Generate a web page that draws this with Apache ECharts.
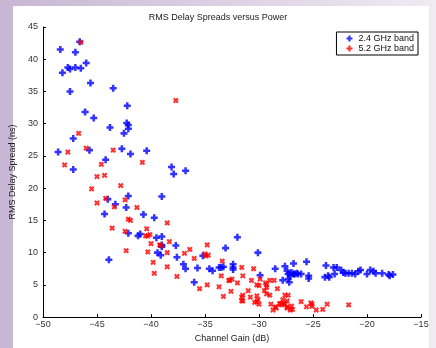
<!DOCTYPE html>
<html><head><meta charset="utf-8">
<script src="https://cdn.jsdelivr.net/npm/echarts@6/dist/echarts.min.js"></script>
<style>html,body{margin:0;padding:0;}#c{width:436px;height:348px;}</style>
</head><body><div id="c"></div>
<script>
const chartTitle = "RMS Delay Spreads versus Power";
const xName = "Channel Gain (dB)";
const yName = "RMS Delay Spread (ns)";
const seriesNames = ["2.4 GHz band", "5.2 GHz band"];
const xTicks = [-50, -45, -40, -35, -30, -25, -20, -15];
const yTicks = [0, 5, 10, 15, 20, 25, 30, 35, 40, 45];

const band24 = [[-46.6,42.7],[-48.4,41.5],[-47.0,41.1],[-46.0,39.4],[-47.7,38.7],[-47.5,38.5],[-47.0,38.7],[-46.5,38.6],[-48.2,37.9],[-45.6,36.3],[-43.5,35.5],[-47.5,35.0],[-42.2,32.8],[-46.1,31.8],[-45.3,30.9],[-43.8,29.4],[-42.25,30.1],[-42.1,29.8],[-42.1,29.2],[-42.5,28.5],[-47.2,27.7],[-45.7,25.9],[-48.6,25.6],[-42.7,26.1],[-40.4,25.8],[-41.9,25.3],[-44.2,24.4],[-47.2,22.9],[-38.1,23.3],[-37.9,22.2],[-36.8,22.7],[-39.0,18.7],[-44.0,18.3],[-42.1,18.8],[-43.3,17.5],[-42.3,17.0],[-44.3,16.0],[-40.7,15.9],[-39.7,15.4],[-42.1,13.0],[-41.2,12.6],[-41.0,12.9],[-39.5,12.3],[-39.0,12.5],[-39.0,11.2],[-39.0,10.9],[-39.4,10.0],[-39.1,9.6],[-43.9,8.9],[-37.7,11.1],[-37.6,9.3],[-37.0,8.2],[-36.8,7.5],[-35.7,7.6],[-36.0,5.4],[-35.2,9.5],[-34.6,7.5],[-34.3,7.2],[-33.7,7.7],[-33.5,7.7],[-33.3,7.8],[-33.1,10.7],[-32.4,8.2],[-32.4,7.7],[-32.4,7.4],[-32.0,12.4],[-30.1,10.0],[-29.9,6.5],[-28.5,7.5],[-27.8,5.7],[-27.6,7.9],[-26.8,8.3],[-25.6,8.6],[-23.8,8.0],[-27.4,7.2],[-27.3,6.7],[-27.1,6.4],[-27.0,6.9],[-26.8,6.7],[-26.7,6.7],[-26.5,6.8],[-26.4,6.7],[-26.1,6.7],[-27.3,5.9],[-27.2,5.4],[-25.4,6.4],[-25.4,6.0],[-23.9,6.2],[-23.6,6.4],[-23.5,6.2],[-23.1,7.7],[-22.8,7.7],[-22.4,7.3],[-22.2,6.9],[-22.0,6.8],[-21.7,6.8],[-21.4,6.8],[-23.0,6.7],[-21.1,6.7],[-20.8,7.1],[-20.6,7.3],[-20.0,6.7],[-19.7,7.3],[-19.4,7.1],[-19.2,6.8],[-18.6,6.8],[-18.0,6.6],[-17.9,6.4],[-17.6,6.6]];

const band52 = [[-46.5,42.6],[-46.7,28.5],[-46.0,26.2],[-47.7,25.6],[-43.5,25.9],[-40.8,24.0],[-48.0,23.6],[-44.6,23.7],[-45.0,21.8],[-44.3,22.0],[-42.8,20.4],[-45.5,19.9],[-44.2,18.4],[-42.4,18.2],[-45.0,17.7],[-43.4,17.1],[-41.3,17.0],[-42.1,15.2],[-41.9,15.0],[-38.5,14.6],[-37.7,33.6],[-43.6,13.8],[-42.4,13.3],[-40.4,13.7],[-40.5,12.6],[-40.3,12.6],[-40.1,12.8],[-38.3,11.7],[-40.0,11.4],[-39.2,11.2],[-39.1,11.1],[-42.3,10.3],[-40.3,10.1],[-38.5,10.0],[-39.8,8.5],[-38.5,7.8],[-39.7,6.8],[-36.4,10.5],[-36.9,9.9],[-36.0,9.1],[-37.6,6.3],[-35.5,4.4],[-34.8,11.2],[-35.0,9.8],[-34.9,9.5],[-34.7,9.6],[-33.4,8.7],[-33.5,6.4],[-34.8,5.0],[-33.7,4.7],[-33.3,3.2],[-32.8,5.7],[-32.7,5.7],[-32.5,5.9],[-31.6,7.7],[-31.5,6.4],[-32.0,5.3],[-32.6,4.0],[-31.5,3.4],[-31.6,3.1],[-31.6,2.5],[-31.5,2.5],[-31.0,4.1],[-30.7,5.7],[-30.5,7.5],[-30.8,3.1],[-30.4,2.3],[-30.2,2.4],[-30.1,2.7],[-30.0,2.0],[-29.9,5.9],[-30.2,5.0],[-30.0,4.9],[-30.2,3.3],[-29.4,5.3],[-29.3,5.0],[-29.3,4.6],[-29.5,4.1],[-29.3,3.6],[-29.0,3.4],[-29.0,5.7],[-28.6,5.7],[-28.3,4.4],[-28.9,2.0],[-28.5,1.6],[-28.7,1.1],[-28.4,1.4],[-28.1,2.1],[-27.7,2.1],[-27.9,1.9],[-27.4,2.5],[-27.3,3.4],[-27.4,1.4],[-27.6,3.4],[-27.8,2.7],[-28.0,2.1],[-27.6,2.0],[-27.4,1.6],[-27.0,1.7],[-26.9,1.2],[-27.1,1.1],[-26.1,2.4],[-25.6,1.6],[-25.2,2.2],[-25.1,2.0],[-25.1,1.7],[-24.7,1.1],[-24.1,1.2],[-23.7,2.0],[-21.7,1.9]];

const plusPath = 'path://M3.2,0H6.8V3.2H10V6.8H6.8V10H3.2V6.8H0V3.2H3.2Z';
const fmt = v => String(v).replace('-', '\u2212');
const font = 'Liberation Sans, Arial, sans-serif';

const chart = echarts.init(document.getElementById('c'), null, {renderer: 'canvas'});
chart.setOption({
  backgroundColor: new echarts.graphic.LinearGradient(0, 0, 1, 0, [
    {offset: 0, color: '#c7b6d4'}, {offset: 1, color: '#efebf2'}
  ]),
  graphic: [{type: 'rect', z: -10, shape: {x: 13, y: 6, width: 416, height: 342}, style: {fill: '#ffffff'}}],
  animation: false,
  title: {text: chartTitle, left: 'center', top: 8,
    textStyle: {fontSize: 9, fontWeight: 'normal', color: '#222', fontFamily: font}},
  grid: {left: 43, top: 27, width: 378, height: 297, containLabel: false},
  legend: {
    right: 18, top: 32, orient: 'vertical', itemGap: 1, itemWidth: 8, itemHeight: 6,
    borderColor: '#000', borderWidth: 1, borderRadius: 0, padding: [2, 4, 2, 10],
    textStyle: {fontSize: 9, color: '#111', fontFamily: font},
    data: [{name: seriesNames[0]}, {name: seriesNames[1]}]
  },
  xAxis: {
    type: 'value', min: xTicks[0], max: xTicks[xTicks.length - 1], interval: 5,
    name: xName, nameLocation: 'middle', nameGap: 10,
    nameTextStyle: {fontSize: 9, color: '#222', fontFamily: font},
    axisLine: {lineStyle: {color: '#000', width: 1}},
    axisTick: {inside: true, length: 3, lineStyle: {color: '#000'}},
    axisLabel: {fontSize: 9, color: '#333', margin: 3, fontFamily: font, formatter: fmt},
    splitLine: {show: false}
  },
  yAxis: {
    type: 'value', min: yTicks[0], max: yTicks[yTicks.length - 1], interval: 5,
    name: yName, nameLocation: 'middle', nameGap: 19,
    nameTextStyle: {fontSize: 9, color: '#222', fontFamily: font},
    axisLine: {show: true, lineStyle: {color: '#000', width: 1}},
    axisTick: {show: true, inside: true, length: 3, lineStyle: {color: '#000'}},
    axisLabel: {fontSize: 9, color: '#333', margin: 5, fontFamily: font, formatter: fmt},
    splitLine: {show: false}
  },
  series: [
    {name: seriesNames[0], type: 'scatter', data: band24, symbol: plusPath, symbolSize: 7,
     itemStyle: {color: '#0000ff'}},
    {name: seriesNames[1], type: 'scatter', data: band52, symbol: plusPath, symbolSize: 6, symbolRotate: 45,
     itemStyle: {color: '#ff0000'}}
  ]
});
</script></body></html>
